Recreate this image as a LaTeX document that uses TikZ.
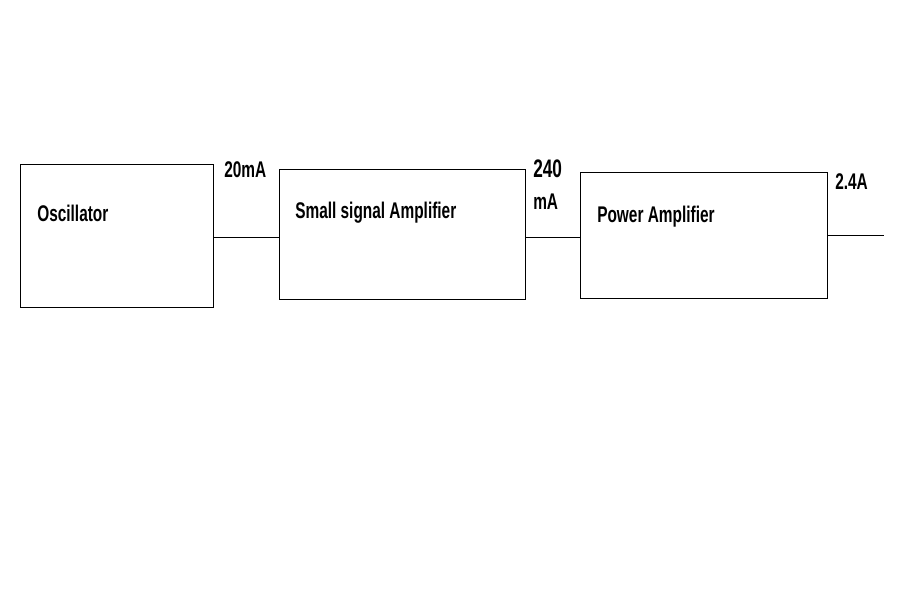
\documentclass[tikz,border=0pt]{standalone}
\usepackage{fontspec}
\setmainfont{Liberation Sans}
\newfontfamily\narrowfont[FakeStretch=0.68]{Liberation Sans}
\usetikzlibrary{positioning,calc}

\begin{document}
\begin{tikzpicture}[
  x=0.75pt, y=-0.75pt,
  blk/.style={draw, line width=0.75pt, inner sep=0pt},
  lbl/.style={anchor=base west, inner sep=0pt, font=\narrowfont\bfseries\fontsize{17}{20}\selectfont},
  big/.style={lbl, font=\narrowfont\bfseries\fontsize{19}{22}\selectfont},
  wire/.style={line width=0.75pt}
]
  \useasboundingbox (0,0) rectangle (909,596);
  % blocks
  \node[blk, minimum width=193*0.75pt, minimum height=143*0.75pt] (osc) at (116.5,235.5) {};
  \node[blk, minimum width=246*0.75pt, minimum height=130*0.75pt] (ssa) at (402,234.5) {};
  \node[blk, minimum width=247*0.75pt, minimum height=126*0.75pt] (pa) at (703.5,235) {};
  \node[lbl] (osct) at (37,221) {Oscillator};
  \node[lbl] (ssat) at (295,218) {Small signal Amplifier};
  \node[lbl] (pat) at (597,222) {Power Amplifier};
  % wires
  \coordinate (out) at (884,235);
  \draw[wire] (osc.east |- 0,237) -- (ssa.west |- 0,237);
  \draw[wire] (ssa.east |- 0,237) -- (pa.west |- 0,237);
  \draw[wire] (pa.east |- out) -- (out);
  % currents
  \node[lbl] (i1) at (224,177) {20mA};
  \node[big] (i2) at (533,177) {240};
  \node[lbl] (i2u) at (533,209) {mA};
  \node[lbl] (i3) at (835,189) {2.4A};
\end{tikzpicture}
\end{document}
